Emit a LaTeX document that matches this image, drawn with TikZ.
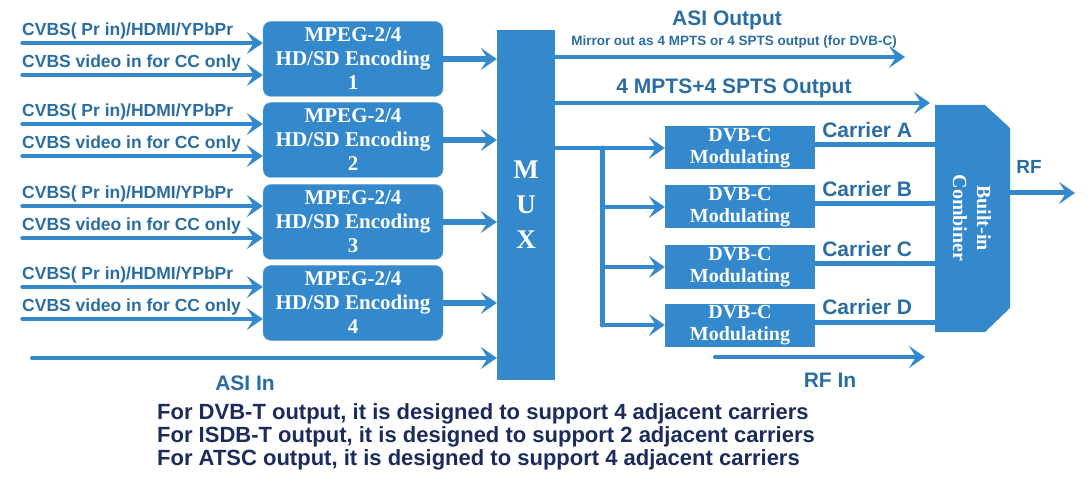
\documentclass[tikz,border=0pt]{standalone}
\usepackage{fontspec}
\setmainfont{Liberation Serif}
\newfontfamily\lsans{Liberation Sans}
\usetikzlibrary{arrows.meta}
\usetikzlibrary{positioning}
\definecolor{blue1}{RGB}{52, 136, 204}
\definecolor{navy1}{RGB}{28, 42, 92}
\tikzset{
  enc/.style={rounded corners=8pt, fill=blue1, draw=blue1!70, minimum width=180pt, minimum height=75pt, inner sep=0pt, align=center, text=white, font=\bfseries\fontsize{21}{24}\selectfont},
  mod/.style={fill=blue1, minimum width=150pt, minimum height=43pt, inner sep=0pt, align=center, text=white, font=\bfseries\fontsize{20}{22}\selectfont},
  lbl/.style={text=blue1!80!black, font=\lsans\bfseries\fontsize{17.5}{18}\selectfont, inner sep=0pt},
  big/.style={lbl, font=\lsans\bfseries\fontsize{21}{21}\selectfont},
  arr/.style={blue1, line width=4pt, line cap=round, -{Stealth[length=16pt,width=22pt,inset=7pt]}},
  bus/.style={blue1, line width=6pt, line cap=round},
}
\begin{document}
\begin{tikzpicture}[x=1pt, y=-1pt]
  \useasboundingbox (0,0) rectangle (1090,489);
  % encoders
  \foreach \i/\y in {1/59, 2/140, 3/222, 4/303} {
    \node[enc] (enc\i) at (353,\y) {MPEG-2/4\\HD/SD Encoding\\\i};
    \coordinate (a\i) at (22,\y-16);
    \coordinate (b\i) at (22,\y+16);
    \draw[arr, line width=3.5pt] (a\i) -- (a\i -| enc\i.west);
    \draw[arr, line width=3.5pt] (b\i) -- (b\i -| enc\i.west);
    \node[lbl, anchor=south west] at ([yshift=4pt]a\i) {CVBS( Pr in)/HDMI/YPbPr};
    \node[lbl, anchor=south west] at ([yshift=4pt]b\i) {CVBS video in for CC only};
  }
  % mux
  \node[fill=blue1, minimum width=58pt, minimum height=350pt, inner sep=0pt] (mux) at (526,205) {};
  \node[text=white, font=\bfseries\fontsize{27}{35}\selectfont, align=center] at (mux) {M\\U\\X};
  \foreach \i in {1,...,4}
    \draw[arr, line width=6pt] (enc\i.east) -- (enc\i.east -| mux.west);
  \coordinate (asiin) at (32,358);
  \draw[arr] (asiin) -- (asiin -| mux.west);
  \node[big] at (245,383) {ASI In};
  % outputs
  \coordinate (asi) at (555,57);
  \coordinate (asiend) at (905,57);
  \draw[arr] (asi) -- (asiend);
  \node[big] at (727,20) {ASI Output};
  \node[lbl, font=\lsans\bfseries\fontsize{13.5}{14}\selectfont] at (734,42) {Mirror out as 4 MPTS or 4 SPTS output (for DVB-C)};
  \coordinate (mp) at (555,103);
  \coordinate (mpend) at (930,103);
  \draw[arr] (mp) -- (mpend);
  \node[big] at (734,88) {4 MPTS+4 SPTS Output};
  % modulators
  \foreach \c/\y in {A/148, B/207, C/267, D/325} {
    \node[mod] (mod\c) at (740,\y) {DVB-C\\Modulating};
  }
  \coordinate (br) at (555,148);
  \coordinate (bv) at (602,148);
  \draw[arr] (br) -- (modA.west);
  \draw[bus, line width=5pt] (bv) -- (bv |- modD.west);
  \foreach \c in {B,C,D}
    \draw[arr] (bv |- mod\c.west) -- (mod\c.west);
  % combiner
  \fill[blue1] (935,105) -- (985,105) -- (1010,128) -- (1010,308) -- (985,332) -- (935,332) -- cycle;
  \node[rotate=-90, text=white, font=\bfseries\fontsize{20}{24}\selectfont, align=center] (comb) at (972,218) {Built-in\\Combiner};
  \foreach \c/\l in {A/Carrier A, B/Carrier B, C/Carrier C, D/Carrier D} {
    \draw[bus, line width=5pt, line cap=butt] ([yshift=3pt]mod\c.east) -- ++(120,0) coordinate (ce\c);
    \node[big, anchor=south] at ([xshift=-68pt,yshift=7pt]ce\c) {\l};
  }
  \coordinate (rfo) at (1010,193);
  \coordinate (rfoend) at (1075,193);
  \draw[arr, line width=5pt] (rfo) -- (rfoend);
  \node[big, font=\lsans\bfseries\fontsize{19}{19}\selectfont] at (1029,167) {RF};
  \coordinate (rfi) at (715,357);
  \coordinate (rfiend) at (925,357);
  \draw[arr] (rfi) -- (rfiend);
  \node[big] at (830,380) {RF In};
  % notes
  \node[text=navy1, font=\lsans\bfseries\fontsize{22}{23}\selectfont, align=left, anchor=north west, inner sep=0pt] at (157,403)
    {For DVB-T output, it is designed to support 4 adjacent carriers\\
     For ISDB-T output, it is designed to support 2 adjacent carriers\\
     For ATSC output, it is designed to support 4 adjacent carriers};
\end{tikzpicture}
\end{document}
